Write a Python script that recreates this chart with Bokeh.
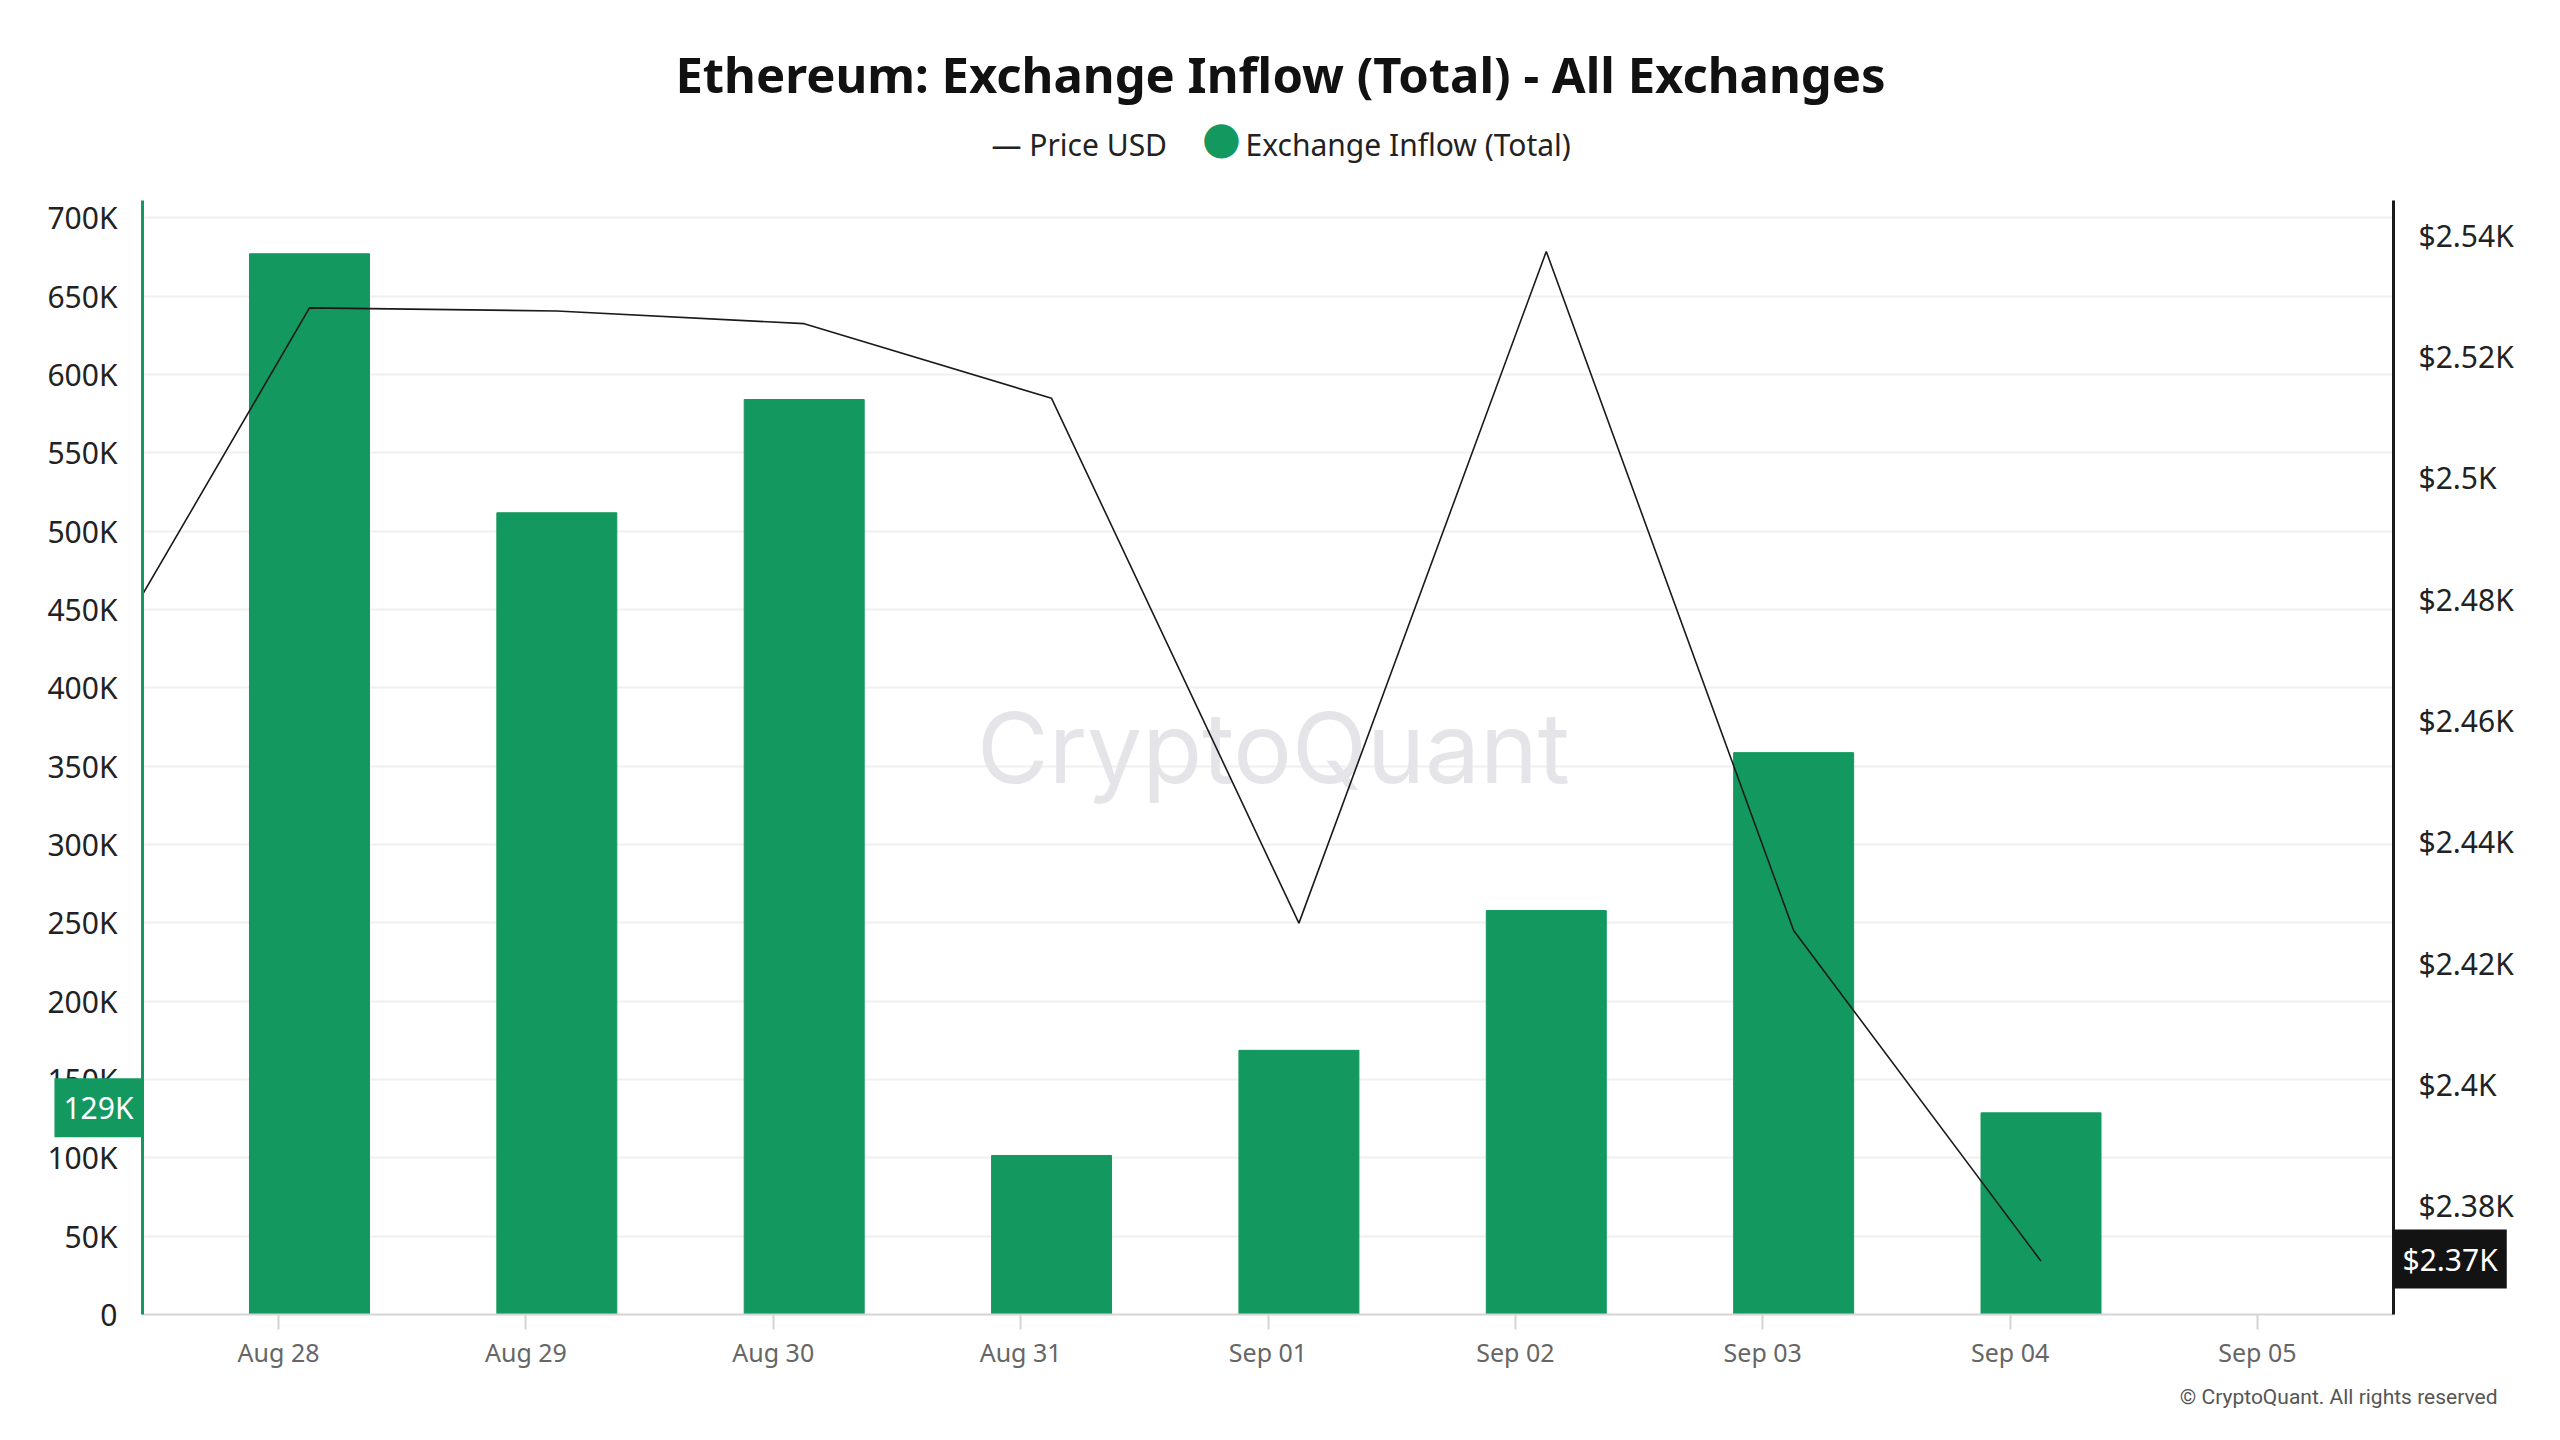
import pandas as pd
from bokeh.plotting import figure
from bokeh.models import (Range1d, LinearAxis, SingleIntervalTicker, CustomJSTickFormatter,
                          DatetimeTickFormatter, DaysTicker, Label)
from bokeh.embed import file_html
from bokeh.resources import INLINE

# ---- data ----
bar_dates = ["2024-08-28", "2024-08-29", "2024-08-30", "2024-08-31",
             "2024-09-01", "2024-09-02", "2024-09-03", "2024-09-04"]
inflow = [677000, 511700, 584000, 101500, 168600, 257800, 358600, 128700]

price_dates = ["2024-08-27", "2024-08-28", "2024-08-29", "2024-08-30", "2024-08-31",
               "2024-09-01", "2024-09-02", "2024-09-03", "2024-09-04"]
price = [2458.0, 2528.0, 2527.5, 2525.4, 2513.1, 2426.6, 2537.3, 2425.4, 2370.9]

latest_inflow_label = "129K"
latest_price_label = "$2.37K"

title_text = "Ethereum: Exchange Inflow (Total) - All Exchanges"
legend_line_label = "Price USD"
legend_bar_label = "Exchange Inflow (Total)"
credit_text = "\u00a9 CryptoQuant. All rights reserved"

GREEN = "#13985f"
DARK = "#1a1a1a"

# ---- layout (canvas pixels) ----
W, H = 2560, 1440
FL, FR, FT, FB = 142, 2393, 200, 1314      # frame edges

shift = pd.Timedelta(hours=3)               # data stamps sit a few hours after midnight
bx = pd.to_datetime(bar_dates) + shift
px = pd.to_datetime(price_dates) + shift

day = pd.Timedelta(days=1)
x_start = pd.Timestamp(bar_dates[0]) - 0.55 * day
x_end = pd.Timestamp("2024-09-05") + 0.55 * day
y_top = 711000

p = figure(width=W, height=H, x_axis_type="datetime",
           x_range=Range1d(x_start, x_end), y_range=Range1d(0, y_top),
           output_backend="svg", toolbar_location=None,
           min_border_left=FL, min_border_right=W - FR,
           min_border_top=FT, min_border_bottom=H - FB)
p.extra_y_ranges = {"price": Range1d(2362.1, 2545.7)}
p.outline_line_color = None
p.background_fill_color = "white"
p.border_fill_color = "white"


def cx(px_):
    """canvas x pixel -> x data value (for decorations placed outside the frame)"""
    return x_start + (px_ - FL) / (FR - FL) * (x_end - x_start)


def cy(py_):
    """canvas y pixel -> left-axis data value"""
    return (FB - py_) / (FB - FT) * y_top


# watermark (behind the data)
p.add_layout(Label(x=1131, y=567, x_units="screen", y_units="screen", text="CryptoQuant",
                   text_align="center", text_baseline="middle", text_font="Inter",
                   text_font_size="98px", text_color="#e4e4e9", level="underlay"))

p.vbar(x=bx, top=inflow, width=0.485 * day, color=GREEN, line_color=GREEN)
p.line(x=px, y=price, y_range_name="price", line_color=DARK, line_width=1.6)

# ---- axes ----
p.xgrid.visible = False
p.ygrid.grid_line_color = "#f0f0f0"
p.ygrid.grid_line_width = 2
p.ygrid.ticker = SingleIntervalTicker(interval=50000)

yl = p.yaxis[0]
yl.ticker = SingleIntervalTicker(interval=50000)
yl.formatter = CustomJSTickFormatter(code="return tick == 0 ? '0' : (tick/1000).toFixed(0) + 'K';")
yl.axis_line_color = GREEN
yl.axis_line_width = 3
yl.major_tick_line_color = None
yl.minor_tick_line_color = None
yl.major_label_standoff = 19
yl.major_label_text_font = "Noto Sans"
yl.major_label_text_font_size = "30px"
yl.major_label_text_color = "#222222"

yr = LinearAxis(y_range_name="price")
yr.ticker = SingleIntervalTicker(interval=20)
yr.formatter = CustomJSTickFormatter(code="return '$' + parseFloat((tick/1000).toFixed(3)) + 'K';")
yr.axis_line_color = DARK
yr.axis_line_width = 3
yr.major_tick_line_color = None
yr.minor_tick_line_color = None
yr.major_label_standoff = 19
yr.major_label_text_font = "Noto Sans"
yr.major_label_text_font_size = "30px"
yr.major_label_text_color = "#222222"
p.add_layout(yr, "right")

xa = p.xaxis[0]
xa.ticker = DaysTicker(days=list(range(1, 32)))
xa.formatter = DatetimeTickFormatter(days="%b %d", months="%b %d", hours="%b %d")
xa.axis_line_color = "#d4d4d4"
xa.axis_line_width = 2
xa.major_tick_line_color = "#d4d4d4"
xa.major_tick_line_width = 2
xa.major_tick_out = 15
xa.major_tick_in = 0
xa.minor_tick_line_color = None
xa.major_label_standoff = 5
xa.major_label_text_font = "Noto Sans"
xa.major_label_text_font_size = "25px"
xa.major_label_text_color = "#666666"

# ---- texts outside the frame (side-panel labels, positioned absolutely) ----
p.add_layout(Label(x=cx(1280), y=cy(73), text=title_text,
                   text_align="center", text_baseline="middle", text_font="Noto Sans",
                   text_font_size="49px", text_font_style="bold", text_color="#111111"), "above")
p.add_layout(Label(x=cx(991), y=cy(144),
                   text="\u2014 " + legend_line_label + "\u2007" * 4 + "\u2009" * 2 + legend_bar_label,
                   text_align="left", text_baseline="middle", text_font="Noto Sans",
                   text_font_size="30px", text_color="#222222"), "above")
p.add_layout(Label(x=cx(2497), y=cy(1396), text=credit_text, text_align="right",
                   text_baseline="middle", text_font="Roboto", text_font_size="21px",
                   text_color="#555555"), "above")
p.add_layout(Label(x=cx(FR), y=price[-1], y_range_name="price", y_offset=2,
                   text=latest_price_label, text_align="left", text_baseline="middle",
                   text_font="Noto Sans", text_font_size="30px", text_color="white",
                   background_fill_color="#131313", padding=9), "above")
p.add_layout(Label(x=cx(FL), y=inflow[-1], y_offset=5,
                   text=latest_inflow_label, text_align="right", text_baseline="middle",
                   text_font="Noto Sans", text_font_size="30px", text_color="white",
                   background_fill_color=GREEN, padding=9), "below")
p.add_layout(Label(x=cx(1221), y=cy(137), text="\u25cf",
                   text_align="center", text_baseline="middle", text_font="DejaVu Sans",
                   text_font_size="45px", text_color=GREEN), "left")

open("out.html", "w").write(file_html(p, INLINE))
